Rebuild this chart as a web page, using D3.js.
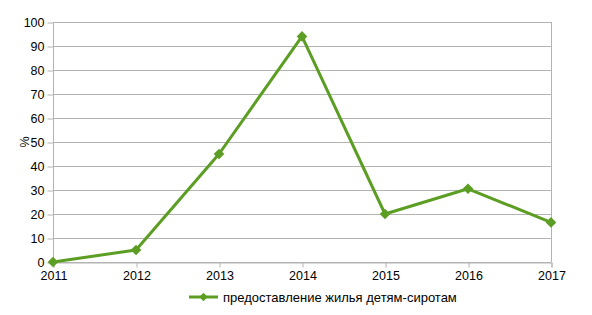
<!DOCTYPE html>
<html lang="ru">
<head>
  <meta charset="utf-8">
  <script src="https://d3js.org/d3.v7.min.js"></script>
  <style>
    body { margin: 0; background: #fff; }
    text { font-family: "Liberation Sans", Arial, sans-serif; fill: #000; }
  </style>
</head>
<body>
<script>
  var years = [2011, 2012, 2013, 2014, 2015, 2016, 2017];
  var values = [0, 5, 45, 94, 20, 30.5, 16.5];
  var yTicks = [0, 10, 20, 30, 40, 50, 60, 70, 80, 90, 100];
  var seriesName = "предоставление жилья детям-сиротам";
  var yTitle = "%";

  var W = 592, H = 315;
  var mLeft = 53, mRight = 551, mTop = 22, mBottom = 262;
  var green = "#5c9e23";

  var svg = d3.select("body").append("svg")
    .attr("width", W).attr("height", H);

  var x = d3.scalePoint().domain(years).range([mLeft, mRight]);
  var y = d3.scaleLinear().domain([0, 100]).range([mBottom, mTop]);

  // gridlines
  svg.append("g").selectAll("line").data(yTicks).enter().append("line")
    .attr("x1", mLeft).attr("x2", mRight)
    .attr("y1", function (d) { return y(d) + 0.5; })
    .attr("y2", function (d) { return y(d) + 0.5; })
    .attr("stroke", "#b3b3b3").attr("stroke-width", 1);

  // right border
  svg.append("line")
    .attr("x1", mRight + 0.5).attr("x2", mRight + 0.5)
    .attr("y1", mTop).attr("y2", mBottom)
    .attr("stroke", "#b3b3b3");

  var yAxis = svg.append("g")
    .attr("transform", "translate(" + (mLeft + 0.5) + ",0.5)")
    .call(d3.axisLeft(y).tickValues(yTicks).tickSize(6).tickPadding(3));
  var xAxis = svg.append("g")
    .attr("transform", "translate(0.5," + (mBottom + 0.5) + ")")
    .call(d3.axisBottom(x).tickSize(5).tickPadding(4));

  [yAxis, xAxis].forEach(function (a) {
    a.selectAll("path, line").attr("stroke", "#b3b3b3");
    a.selectAll("text").attr("font-size", 12.5).attr("fill", "#000")
      .style("font-family", "Liberation Sans, Arial, sans-serif");
  });
  yAxis.select(".domain").attr("d", "M0," + mTop + "V" + mBottom);

  svg.append("text")
    .attr("transform", "translate(29," + ((mTop + mBottom) / 2) + ") rotate(-90)")
    .attr("text-anchor", "middle")
    .attr("font-size", 12.5)
    .text(yTitle);

  var line = d3.line()
    .x(function (d, i) { return x(years[i]); })
    .y(function (d) { return y(d); });

  svg.append("path").datum(values)
    .attr("d", line)
    .attr("fill", "none")
    .attr("stroke", green)
    .attr("stroke-width", 3)
    .attr("stroke-linejoin", "round");

  var diamond = d3.symbol().type(d3.symbolDiamond2).size(72);
  svg.append("g").selectAll("path").data(values).enter().append("path")
    .attr("d", diamond)
    .attr("transform", function (d, i) { return "translate(" + x(years[i]) + "," + y(d) + ")"; })
    .attr("fill", green);

  // legend
  var lg = svg.append("g").attr("transform", "translate(189,297)");
  lg.append("line").attr("x1", 0).attr("x2", 29).attr("y1", 0).attr("y2", 0)
    .attr("stroke", green).attr("stroke-width", 3);
  lg.append("path").attr("d", d3.symbol().type(d3.symbolDiamond2).size(44))
    .attr("transform", "translate(14.5,0)").attr("fill", green);
  lg.append("text").attr("x", 34).attr("y", 4.5).attr("font-size", 13).text(seriesName);
</script>
</body>
</html>
